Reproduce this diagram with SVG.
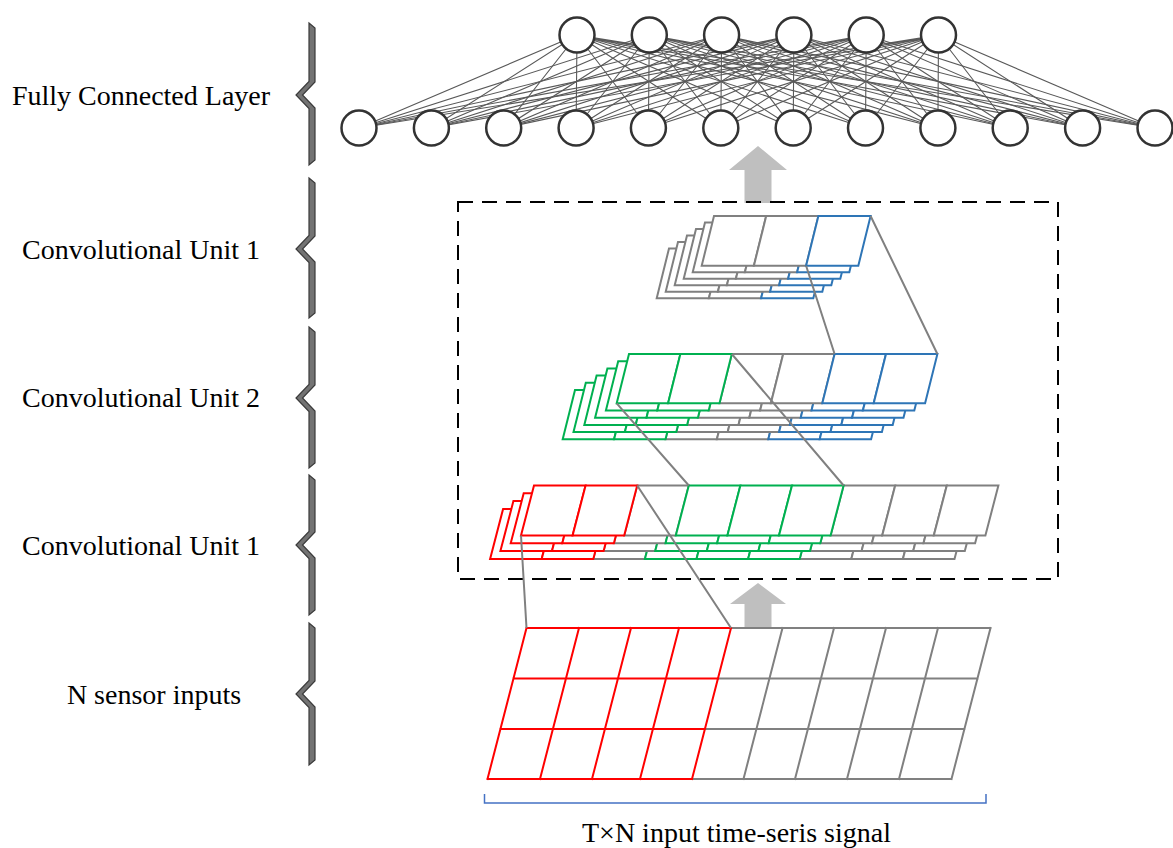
<svg xmlns="http://www.w3.org/2000/svg" width="1173" height="848" viewBox="0 0 1173 848">
<style>
  .lbl{font-family:"Liberation Serif","Times New Roman",serif;font-size:28px;fill:#000;text-anchor:middle}
  .brace{fill:#737373;stroke:#3a3a3a;stroke-width:1.2;stroke-linejoin:miter}
  .fc{fill:#fff;stroke:#333;stroke-width:2.5}
  .edge{fill:none;stroke:#595959;stroke-width:1.1}
  .cell{fill:#fff;stroke-width:2;stroke-linejoin:miter}
  .g{stroke:#808080}
  .r{stroke:#ff0000}
  .gr{stroke:#00b050}
  .b{stroke:#2e75b6}
  .ln{fill:none;stroke-width:2;stroke-linecap:square}
  .link{fill:none;stroke:#808080;stroke-width:2}
  .arrow{fill:#bfbfbf}
  .frame{fill:none;stroke:#000;stroke-width:2;stroke-dasharray:15 9}
  .span{fill:none;stroke:#4472c4;stroke-width:1.5}
</style>
<defs>
  <!-- one feature map of the top convolutional unit -->
  <g id="layer-top">
    <polygon class="cell g" points="0,0 52.2,0 39.9,49.7 -12.3,49.7"/>
    <polygon class="cell g" points="52.2,0 104.4,0 92.1,49.7 39.9,49.7"/>
    <polygon class="cell b" points="104.4,0 156.6,0 144.3,49.7 92.1,49.7"/>
  </g>
  <!-- one feature map of convolutional unit 2 -->
  <g id="layer-mid">
    <polygon class="cell g" points="102.8,0 154.2,0 141.9,49.3 90.5,49.3"/>
    <polygon class="cell g" points="154.2,0 205.6,0 193.3,49.3 141.9,49.3"/>
    <polygon class="cell gr" points="0,0 51.4,0 39.1,49.3 -12.3,49.3"/>
    <polygon class="cell gr" points="51.4,0 102.8,0 90.5,49.3 39.1,49.3"/>
    <polygon class="cell b" points="205.6,0 257,0 244.7,49.3 193.3,49.3"/>
    <polygon class="cell b" points="257,0 308.4,0 296.1,49.3 244.7,49.3"/>
  </g>
  <!-- one feature map of the first convolutional unit -->
  <g id="layer-low">
    <polygon class="cell g" points="103.2,0 154.8,0 141.8,50 90.2,50"/>
    <polygon class="cell g" points="309.6,0 361.2,0 348.2,50 296.6,50"/>
    <polygon class="cell g" points="361.2,0 412.8,0 399.8,50 348.2,50"/>
    <polygon class="cell g" points="412.8,0 464.4,0 451.4,50 399.8,50"/>
    <polygon class="cell r" points="0,0 51.6,0 38.6,50 -13,50"/>
    <polygon class="cell r" points="51.6,0 103.2,0 90.2,50 38.6,50"/>
    <polygon class="cell gr" points="154.8,0 206.4,0 193.4,50 141.8,50"/>
    <polygon class="cell gr" points="206.4,0 258,0 245,50 193.4,50"/>
    <polygon class="cell gr" points="258,0 309.6,0 296.6,50 245,50"/>
  </g>
</defs>

<!-- side braces -->
<g id="braces">
  <polygon class="brace" points="309,23 315,28 315,82 302.5,95 315,108 315,160 309,165 309,108.5 296,95 309,81.5"/>
  <polygon class="brace" points="309,178 315,183 315,236 302.5,249 315,262 315,313 309,318 309,262.5 296,249 309,235.5"/>
  <polygon class="brace" points="309,327 315,332 315,385 302.5,398 315,411 315,463 309,468 309,411.5 296,398 309,384.5"/>
  <polygon class="brace" points="309,475 315,480 315,532 302.5,545 315,558 315,610 309,615 309,558.5 296,545 309,531.5"/>
  <polygon class="brace" points="309,623 315,628 315,681 302.5,694 315,707 315,760 309,765 309,707.5 296,694 309,680.5"/>
</g>

<!-- labels -->
<g id="labels">
  <text class="lbl" x="141" y="105">Fully Connected Layer</text>
  <text class="lbl" x="141" y="259">Convolutional Unit 1</text>
  <text class="lbl" x="141" y="407">Convolutional Unit 2</text>
  <text class="lbl" x="141" y="555">Convolutional Unit 1</text>
  <text class="lbl" x="154" y="704">N sensor inputs</text>
  <text class="lbl" x="736.5" y="842">T×N input time-seris signal</text>
</g>

<!-- connectors -->
<g id="connectors">
  <path class="edge" d="M577 35L359 128M577 35L431.4 128M577 35L503.7 128M577 35L576.1 128M577 35L648.4 128M577 35L720.8 128M577 35L793.2 128M577 35L865.5 128M577 35L937.9 128M577 35L1010.2 128M577 35L1082.6 128M577 35L1155 128"/>
  <path class="edge" d="M649.3 35L359 128M649.3 35L431.4 128M649.3 35L503.7 128M649.3 35L576.1 128M649.3 35L648.4 128M649.3 35L720.8 128M649.3 35L793.2 128M649.3 35L865.5 128M649.3 35L937.9 128M649.3 35L1010.2 128M649.3 35L1082.6 128M649.3 35L1155 128"/>
  <path class="edge" d="M721.6 35L359 128M721.6 35L431.4 128M721.6 35L503.7 128M721.6 35L576.1 128M721.6 35L648.4 128M721.6 35L720.8 128M721.6 35L793.2 128M721.6 35L865.5 128M721.6 35L937.9 128M721.6 35L1010.2 128M721.6 35L1082.6 128M721.6 35L1155 128"/>
  <path class="edge" d="M793.9 35L359 128M793.9 35L431.4 128M793.9 35L503.7 128M793.9 35L576.1 128M793.9 35L648.4 128M793.9 35L720.8 128M793.9 35L793.2 128M793.9 35L865.5 128M793.9 35L937.9 128M793.9 35L1010.2 128M793.9 35L1082.6 128M793.9 35L1155 128"/>
  <path class="edge" d="M866.2 35L359 128M866.2 35L431.4 128M866.2 35L503.7 128M866.2 35L576.1 128M866.2 35L648.4 128M866.2 35L720.8 128M866.2 35L793.2 128M866.2 35L865.5 128M866.2 35L937.9 128M866.2 35L1010.2 128M866.2 35L1082.6 128M866.2 35L1155 128"/>
  <path class="edge" d="M938.5 35L359 128M938.5 35L431.4 128M938.5 35L503.7 128M938.5 35L576.1 128M938.5 35L648.4 128M938.5 35L720.8 128M938.5 35L793.2 128M938.5 35L865.5 128M938.5 35L937.9 128M938.5 35L1010.2 128M938.5 35L1082.6 128M938.5 35L1155 128"/>
</g>

<!-- fully connected layer: upper row -->
<g id="fc-top-1"><circle class="fc" cx="577" cy="35" r="17.5"/></g>
<g id="fc-top-2"><circle class="fc" cx="649.3" cy="35" r="17.5"/></g>
<g id="fc-top-3"><circle class="fc" cx="721.6" cy="35" r="17.5"/></g>
<g id="fc-top-4"><circle class="fc" cx="793.9" cy="35" r="17.5"/></g>
<g id="fc-top-5"><circle class="fc" cx="866.2" cy="35" r="17.5"/></g>
<g id="fc-top-6"><circle class="fc" cx="938.5" cy="35" r="17.5"/></g>
<!-- fully connected layer: lower row -->
<g id="fc-bottom-1"><circle class="fc" cx="359" cy="128" r="17.5"/></g>
<g id="fc-bottom-2"><circle class="fc" cx="431.4" cy="128" r="17.5"/></g>
<g id="fc-bottom-3"><circle class="fc" cx="503.7" cy="128" r="17.5"/></g>
<g id="fc-bottom-4"><circle class="fc" cx="576.1" cy="128" r="17.5"/></g>
<g id="fc-bottom-5"><circle class="fc" cx="648.4" cy="128" r="17.5"/></g>
<g id="fc-bottom-6"><circle class="fc" cx="720.8" cy="128" r="17.5"/></g>
<g id="fc-bottom-7"><circle class="fc" cx="793.2" cy="128" r="17.5"/></g>
<g id="fc-bottom-8"><circle class="fc" cx="865.5" cy="128" r="17.5"/></g>
<g id="fc-bottom-9"><circle class="fc" cx="937.9" cy="128" r="17.5"/></g>
<g id="fc-bottom-10"><circle class="fc" cx="1010.2" cy="128" r="17.5"/></g>
<g id="fc-bottom-11"><circle class="fc" cx="1082.6" cy="128" r="17.5"/></g>
<g id="fc-bottom-12"><circle class="fc" cx="1155" cy="128" r="17.5"/></g>

<!-- block arrows -->
<g id="arrow-up-top"><polygon class="arrow" points="758,146 787,170 771.5,170 771.5,203 744.5,203 744.5,170 729,170"/></g>

<!-- dashed frame around the convolutional units -->
<g id="conv-frame"><rect class="frame" x="458" y="202" width="600" height="377"/></g>

<g id="arrow-up-bottom"><polygon class="arrow" points="758,583 786,604 771.5,604 771.5,628 744.5,628 744.5,604 730,604"/></g>

<!-- convolutional unit 1 (top) -->
<g id="conv-unit-1-top">
  <use href="#layer-top" transform="translate(669,248.5)"/>
  <use href="#layer-top" transform="translate(678,242)"/>
  <use href="#layer-top" transform="translate(687,235.5)"/>
  <use href="#layer-top" transform="translate(696,229)"/>
  <use href="#layer-top" transform="translate(705,222.5)"/>
  <use href="#layer-top" transform="translate(714,216)"/>
</g>

<!-- convolutional unit 2 -->
<g id="conv-unit-2">
  <use href="#layer-mid" transform="translate(575,390)"/>
  <use href="#layer-mid" transform="translate(585.8,382.8)"/>
  <use href="#layer-mid" transform="translate(596.6,375.6)"/>
  <use href="#layer-mid" transform="translate(607.4,368.4)"/>
  <use href="#layer-mid" transform="translate(618.2,361.2)"/>
  <use href="#layer-mid" transform="translate(629,354)"/>
</g>

<!-- convolutional unit 1 (bottom) -->
<g id="conv-unit-1-bottom">
  <use href="#layer-low" transform="translate(503.1,508.9)"/>
  <use href="#layer-low" transform="translate(513.4,501.1)"/>
  <use href="#layer-low" transform="translate(523.7,493.3)"/>
  <use href="#layer-low" transform="translate(534,485.5)"/>
</g>

<!-- T x N input grid -->
<g id="input-grid">
  <path class="ln g" d="M731 628H990.5M718 678.5H977.5M704.9 729H964.4M692 779H951.5M782.5 628L743.5 779M834 628L795 779M886 628L847 779M938 628L899 779M990.5 628L951.5 779"/>
  <path class="ln r" d="M526.5 628H731M513.5 678.5H718M500.4 729H704.9M487.5 779H692M526.5 628L487.5 779M579 628L540 779M631 628L592 779M679 628L640 779M731 628L692 779"/>
</g>

<!-- receptive-field guide lines -->
<g id="field-lines">
  <path class="link" d="M806.1 265.7L834.6 354M870.6 216L937.4 354"/>
  <path class="link" d="M616.7 403.3L688.8 485.5M731.8 354L843.6 485.5"/>
  <path class="link" d="M521 535.5L526.5 628M637.2 485.5L731 628"/>
</g>

<!-- span bracket under the input -->
<g id="input-span"><path class="span" d="M484.5 794V803H986V794"/></g>
</svg>
